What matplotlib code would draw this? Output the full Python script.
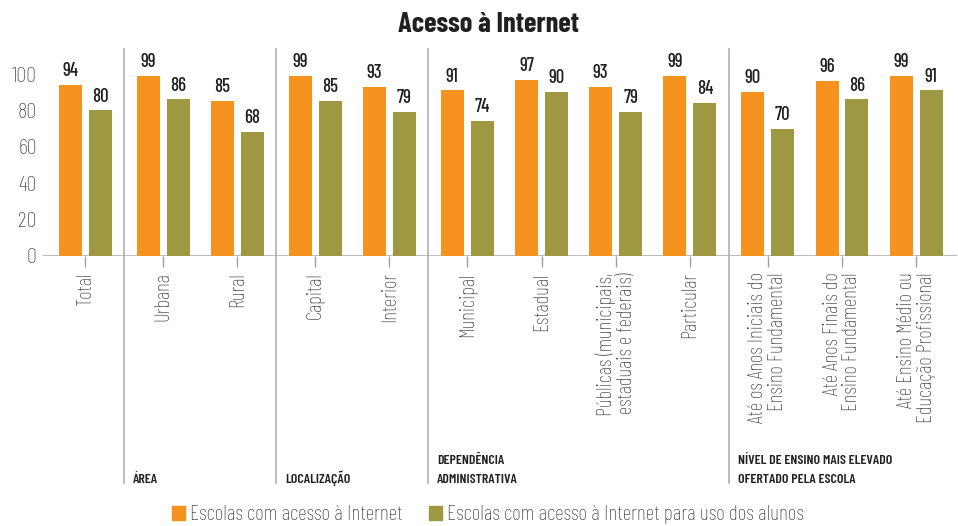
import matplotlib
matplotlib.use("Agg")
import matplotlib.pyplot as plt
import matplotlib.transforms as mtransforms
from matplotlib.patches import Patch

plt.rcParams['font.family'] = ['Barlow Condensed', 'DejaVu Sans']

# data
categories = ["Total", "Urbana", "Rural", "Capital", "Interior", "Municipal", "Estadual",
              "Públicas (municipais,\nestaduais e federais)", "Particular",
              "Até os Anos Iniciais do\nEnsino Fundamental",
              "Até Anos Finais do\nEnsino Fundamental",
              "Até Ensino Médio ou\nEducação Profissional"]
group_of = [0, 1, 1, 2, 2, 3, 3, 3, 3, 4, 4, 4]
group_names = ["", "ÁREA", "LOCALIZAÇÃO", "DEPENDÊNCIA\nADMINISTRATIVA",
               "NÍVEL DE ENSINO MAIS ELEVADO\nOFERTADO PELA ESCOLA"]
acesso = [94, 99, 85, 99, 93, 91, 97, 93, 99, 90, 96, 99]
acesso_alunos = [80, 86, 68, 85, 79, 74, 90, 79, 84, 70, 86, 91]
series_names = ["Escolas com acesso à Internet",
                "Escolas com acesso à Internet para uso dos alunos"]

ORANGE = "#F6921E"
OLIVE = "#9E9843"
GRAY = "#bdbdbd"
DARK = "#231f20"
TXT = "#333333"

# x position: one unit per category plus a small gap between groups
gap = 0.05
xpos = [i + gap * g for i, g in enumerate(group_of)]

fig = plt.figure(figsize=(9.58, 5.26), dpi=100)
ax = fig.add_axes([43 / 958, 270.3 / 526, 914 / 958, 206.7 / 526])

w = 0.31
off = 0.202
b1 = ax.bar([x - off for x in xpos], acesso, width=w, color=ORANGE, zorder=2)
b2 = ax.bar([x + off for x in xpos], acesso_alunos, width=w, color=OLIVE, zorder=2)
ax.bar_label(b1, padding=3.5, fontsize=13.5, fontweight='medium', color=DARK)
ax.bar_label(b2, padding=3.5, fontsize=13.5, fontweight='medium', color=DARK)

ax.set_xlim(-0.57, 11.75)
ax.set_ylim(0, 113.8)
ax.axhline(0, color=GRAY, lw=1.5, zorder=1)

for s in ax.spines.values():
    s.set_visible(False)

ax.set_yticks([0, 20, 40, 60, 80, 100])
ax.tick_params(axis='y', length=0, pad=4.5, labelsize=16, labelcolor=TXT)
for lab in ax.get_yticklabels():
    lab.set_fontweight('light')
ax.set_xticks(xpos)
ax.set_xticklabels(categories, rotation=90, fontsize=15, color=TXT, fontweight='light')
for lab in ax.get_xticklabels():
    lab.set_multialignment('right')
    lab.set_linespacing(1.05)
ax.tick_params(axis='x', length=8, width=1, color="#a0a0a0", pad=4)

# group separators and labels
trans = mtransforms.blended_transform_factory(ax.transData, fig.transFigure)
for g in range(1, len(group_names)):
    first = group_of.index(g)
    sep = (xpos[first - 1] + xpos[first]) / 2
    ax.axvline(sep, ymin=-1.1, ymax=1.0, color="#b0b0b0", lw=1.2, clip_on=False)
    ax.text(sep + 0.12, 1 - 486 / 526, group_names[g], transform=trans,
            fontsize=10, fontweight='semibold', color=DARK, ha='left', va='bottom',
            linespacing=1.8)

fig.text(488 / 958, 1 - 32 / 526, "Acesso à Internet", ha='center', va='baseline',
         fontsize=20.5, fontweight='bold', color=DARK)

handles = [Patch(color=ORANGE), Patch(color=OLIVE)]
leg = fig.legend(handles, series_names, loc='center', bbox_to_anchor=(488 / 958, 1 - 515 / 526),
                 ncol=2, frameon=False, fontsize=15.5, handlelength=0.6, handleheight=0.6,
                 handletextpad=0.25, columnspacing=1.2, labelcolor=TXT)
for t in leg.get_texts():
    t.set_fontweight('light')

fig.savefig("out.png", dpi=100)
